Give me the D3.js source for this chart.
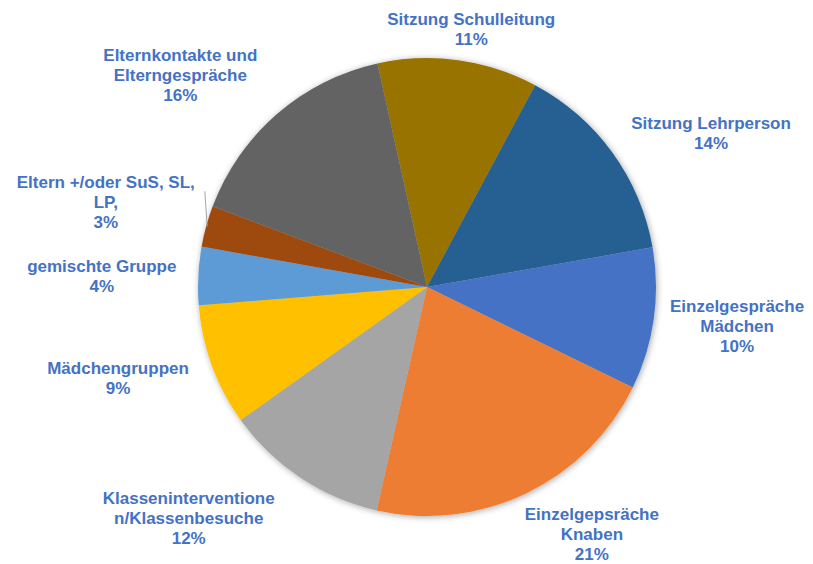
<!DOCTYPE html>
<html>
<head>
<meta charset="utf-8">
<script src="https://cdn.jsdelivr.net/npm/d3@7"></script>
<style>
  body { margin: 0; background: #fff; }
  svg { display: block; }
</style>
</head>
<body>
<div id="chart"><svg width="813" height="564"></svg></div>
<script>
// data (percent shares, clockwise)
const categories = [
    'Sitzung  Schulleitung',
    'Sitzung Lehrperson',
    'Einzelgespräche|Mädchen',
    'Einzelgepsräche|Knaben',
    'Klasseninterventione|n/Klassenbesuche',
    'Mädchengruppen',
    'gemischte  Gruppe',
    'Eltern +/oder SuS, SL,|LP,',
    'Elternkontakte und|Elterngespräche'
]
const values = [11.3, 14.4, 10.0, 21.3, 11.6, 8.6, 4.1, 2.9, 15.8]
const colors = ['#997300', '#255e91', '#4472c4', '#ed7d31', '#a5a5a5', '#ffc000', '#5b9bd5', '#9e480e', '#636363']

// label tweaks (Excel places its labels a bit irregularly)
const nudges = [[0, 0], [25, -2], [6, 1], [32, 4], [-58, 6], [-17, 2], [-11, 2], [-4, -13], [-39, -8]]

const svg = d3.select('#chart svg')
const cx = 427, cy = 287, radius = 229
const lineH = 20

const defs = svg.append('defs')
const shadow = defs.append('filter').attr('id', 'shadow')
    .attr('x', '-20%').attr('y', '-20%').attr('width', '140%').attr('height', '140%')
shadow.append('feDropShadow')
    .attr('dx', 1).attr('dy', 1).attr('stdDeviation', 3)
    .attr('flood-color', '#000').attr('flood-opacity', 0.35)

const startA = -12.5 * Math.PI / 180
const pie = d3.pie().sort(null)
    .startAngle(startA).endAngle(startA + 2 * Math.PI)
const arcs = pie(values)
const arc = d3.arc().innerRadius(0).outerRadius(radius)

const g = svg.append('g').attr('transform', `translate(${cx},${cy})`)

g.append('g').attr('filter', 'url(#shadow)')
    .selectAll('path')
    .data(arcs)
    .join('path')
    .attr('d', arc)
    .style('fill', (d, i) => colors[i])

// labels
const labels = g.selectAll('text.lbl')
    .data(arcs)
    .join('text')
    .attr('class', 'lbl')
    .style('font-family', '"Liberation Sans", Arial, sans-serif')
    .style('font-size', '17px')
    .style('font-weight', 700)
    .style('fill', '#4472c4')
    .attr('text-anchor', 'middle')

labels.each(function (d, i) {
    const lines = categories[i].split('|').concat([Math.round(values[i]) + '%'])
    const t = d3.select(this)
    lines.forEach(l => t.append('tspan').attr('x', 0).text(l))
    const bb = this.getBBox()
    const w = bb.width, h = lines.length * lineH
    const a = (d.startAngle + d.endAngle) / 2
    const s = Math.sin(a), c = -Math.cos(a)
    const r = radius + 11
    const lx = r * s + s * w / 2 + nudges[i][0]
    const ly = r * c + c * h / 2 + nudges[i][1]
    t.selectAll('tspan')
        .attr('x', lx)
        .attr('y', (k, j) => ly - h / 2 + lineH * j + 16)
    d.lx = lx; d.ly = ly; d.w = w; d.h = h
})

// leader line for the small slice whose label was moved away
const small = arcs[7]
const am = (small.startAngle + small.endAngle) / 2
g.append('line')
    .attr('x1', (radius - 1) * Math.sin(am))
    .attr('y1', -(radius - 1) * Math.cos(am))
    .attr('x2', small.lx + small.w / 2 + 10)
    .attr('y2', small.ly - small.h / 2 + 19)
    .style('stroke', '#a6a6a6')
    .style('stroke-width', 1)
</script>
</body>
</html>
